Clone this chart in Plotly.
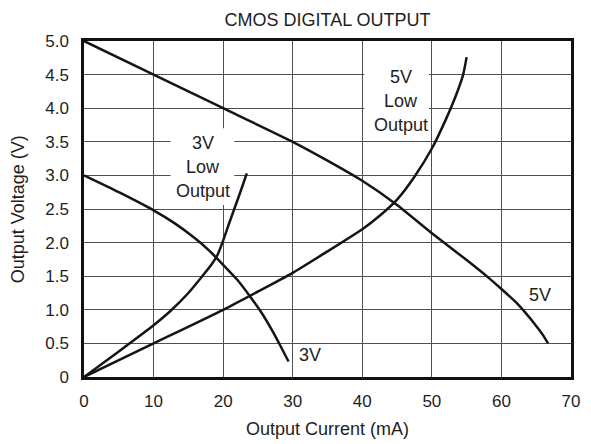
import plotly.graph_objects as go

# ---- data ----
v5_high_x = [0, 10, 20, 30, 35, 40, 45, 50, 55, 58, 60, 62, 63.5, 65, 66, 66.7]
v5_high_y = [5.0, 4.5, 4.0, 3.5, 3.22, 2.92, 2.56, 2.14, 1.74, 1.49, 1.31, 1.12, 0.95, 0.76, 0.62, 0.5]

v5_low_x = [0, 10, 20, 30, 35, 40, 42.5, 45, 47.5, 50, 52, 53.5, 54.5, 55.0]
v5_low_y = [0, 0.5, 1.0, 1.55, 1.87, 2.2, 2.4, 2.64, 2.98, 3.4, 3.83, 4.2, 4.5, 4.76]

v3_high_x = [0, 5, 10, 13, 16, 18, 20, 22, 24, 25.5, 27, 28.3, 29.4]
v3_high_y = [3.0, 2.75, 2.48, 2.29, 2.06, 1.88, 1.67, 1.45, 1.18, 0.96, 0.7, 0.45, 0.23]

v3_low_x = [0, 5, 10, 12.5, 15, 17, 18.3, 19.2, 20, 20.8, 21.6, 22.5, 23.4]
v3_low_y = [0, 0.38, 0.77, 0.99, 1.25, 1.5, 1.67, 1.82, 2.03, 2.27, 2.5, 2.76, 3.03]

x_ticks = [0, 10, 20, 30, 40, 50, 60, 70]
x_ticktext = ["0", "10", "20", "30", "40", "50", "60", "70"]
y_ticks = [0, 0.5, 1.0, 1.5, 2.0, 2.5, 3.0, 3.5, 4.0, 4.5, 5.0]
y_ticktext = ["0", "0.5", "1.0", "1.5", "2.0", "2.5", "3.0", "3.5", "4.0", "4.5", "5.0"]

title_text = "CMOS DIGITAL OUTPUT"
x_title = "Output Current (mA)"
y_title = "Output Voltage (V)"

FONT = "Liberation Sans, Arial, sans-serif"
FS = 18
FS_TICK = 17
TXT = "#1e1e1e"
CURVE = "#151515"

fig = go.Figure()
for xs, ys in [(v5_high_x, v5_high_y), (v5_low_x, v5_low_y),
               (v3_high_x, v3_high_y), (v3_low_x, v3_low_y)]:
    fig.add_trace(go.Scatter(x=xs, y=ys, mode="lines",
                             line=dict(color=CURVE, width=2.5, shape="spline", smoothing=0.5),
                             hoverinfo="skip", showlegend=False))

# white label boxes (between grid and traces)
fig.add_shape(type="rect", x0=12.45, x1=21.6, y0=2.56, y1=3.70, layer="between",
              fillcolor="white", line=dict(width=0))
fig.add_shape(type="rect", x0=40.3, x1=49.6, y0=3.56, y1=4.70, layer="between",
              fillcolor="white", line=dict(width=0))

lbl = dict(showarrow=False, font=dict(family=FONT, size=FS, color=TXT),
           xref="x", yref="y")
for t, yy in zip(["3V", "Low", "Output"], [3.48, 3.12, 2.77]):
    fig.add_annotation(text=t, x=17.1, y=yy, **lbl)
for t, yy in zip(["5V", "Low", "Output"], [4.46, 4.10, 3.75]):
    fig.add_annotation(text=t, x=45.6, y=yy, **lbl)
fig.add_annotation(text="5V", x=65.5, y=1.22, **lbl)
fig.add_annotation(text="3V", x=32.5, y=0.33, **lbl)

axis_common = dict(showgrid=True, gridcolor="#505050", gridwidth=1.2,
                   showline=True, linecolor="#111", linewidth=2.5, mirror=True,
                   zeroline=False, ticks="", tickfont=dict(family=FONT, size=FS_TICK, color=TXT))

fig.update_xaxes(range=[0, 70], tickvals=x_ticks, ticktext=x_ticktext,
                 ticklabelstandoff=7, **axis_common)
fig.update_yaxes(range=[0, 5], tickvals=y_ticks, ticktext=y_ticktext,
                 ticklabelstandoff=9, **axis_common)

fig.add_annotation(text=x_title, xref="paper", yref="paper", x=0.5, y=-0.155,
                   yanchor="middle", showarrow=False,
                   font=dict(family=FONT, size=FS, color=TXT))
fig.add_annotation(text=y_title, xref="paper", yref="paper", x=-0.135, y=0.5,
                   xanchor="center", textangle=-90, showarrow=False,
                   font=dict(family=FONT, size=FS, color=TXT))

fig.update_layout(
    width=591, height=444,
    margin=dict(l=84, r=11, t=41, b=67),
    paper_bgcolor="white", plot_bgcolor="white",
    title=dict(text=title_text, x=0.5, xref="paper", y=1 - 20 / 444, yref="container",
               yanchor="middle", xanchor="center",
               font=dict(family=FONT, size=FS, color=TXT)),
)

fig.write_html("out.html", config={"displayModeBar": False},
               post_script="document.body.style.margin='0';document.body.style.overflow='hidden';")
